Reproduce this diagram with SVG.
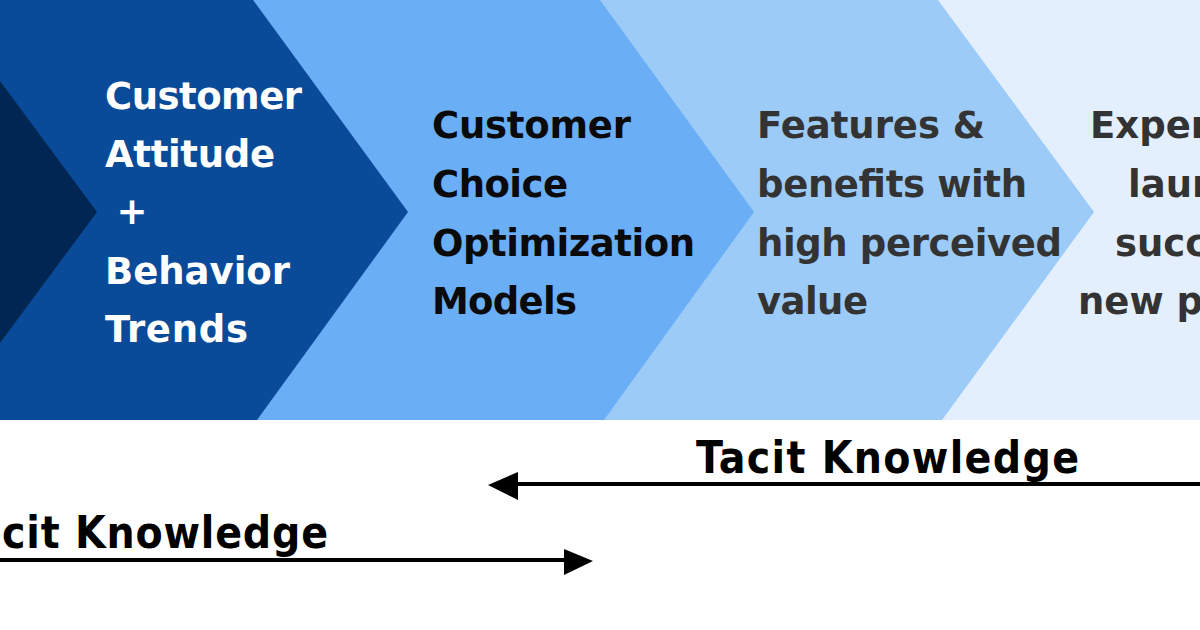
<svg xmlns="http://www.w3.org/2000/svg" width="1200" height="630" viewBox="0 0 1200 630">
<style>
.t{font-family:"DejaVu Sans","Liberation Sans",sans-serif;font-weight:bold;font-size:37px}
.w{fill:#ffffff}.k{fill:#0a0a0a}.g{fill:#333333}
.lbl{font-family:"DejaVu Sans Condensed","DejaVu Sans","Liberation Sans",sans-serif;font-weight:bold;font-size:44px;fill:#000000}
.ln{stroke:#000000;stroke-width:4;fill:none}
.hd{fill:#000000}
</style>
<rect x="0" y="0" width="1200" height="630" fill="#ffffff"/>
<g id="node-4">
<rect x="0" y="0" width="1200" height="420" fill="#e3effd"/>
<text class="t g" x="1090" y="138">Exper</text>
<text class="t g" x="1128" y="197">laun</text>
<text class="t g" x="1115" y="256">succ</text>
<text class="t g" x="1078" y="314">new p</text>
</g>
<g id="node-3">
<polygon points="0,0 938,0 1094,212 942,420 0,420" fill="#9ccbf8"/>
<text class="t g" x="757" y="138" textLength="228">Features &amp;</text>
<text class="t g" x="757" y="197" textLength="270">benefits with</text>
<text class="t g" x="757" y="256" textLength="305">high perceived</text>
<text class="t g" x="757" y="314" textLength="111">value</text>
</g>
<g id="node-2">
<polygon points="0,0 600,0 754,212 604,420 0,420" fill="#6aaef5"/>
<text class="t k" x="432" y="138" textLength="199">Customer</text>
<text class="t k" x="432" y="197" textLength="136">Choice</text>
<text class="t k" x="432" y="256" textLength="263">Optimization</text>
<text class="t k" x="432" y="314" textLength="145">Models</text>
</g>
<g id="node-1">
<polygon points="0,0 253,0 408,212 257,420 0,420" fill="#0a4b99"/>
<text class="t w" x="105" y="109" textLength="197">Customer</text>
<text class="t w" x="105" y="167" textLength="170">Attitude</text>
<text class="t w" x="132" y="224" text-anchor="middle">+</text>
<text class="t w" x="105" y="284" textLength="185">Behavior</text>
<text class="t w" x="105" y="342" textLength="143">Trends</text>
</g>
<g id="node-0">
<polygon points="0,81 97,212 0,343" fill="#022654"/>
</g>
<g id="connectors">
<line class="ln" x1="514" y1="484" x2="1200" y2="484"/>
<polygon class="hd" points="488,485 518,472 518,500"/>
<text class="lbl" x="696" y="473" textLength="383">Tacit Knowledge</text>
<line class="ln" x1="0" y1="560" x2="568" y2="560"/>
<polygon class="hd" points="593,561 564,549 564,575"/>
<text class="lbl" x="2" y="548" textLength="326">cit Knowledge</text>
</g>
</svg>
